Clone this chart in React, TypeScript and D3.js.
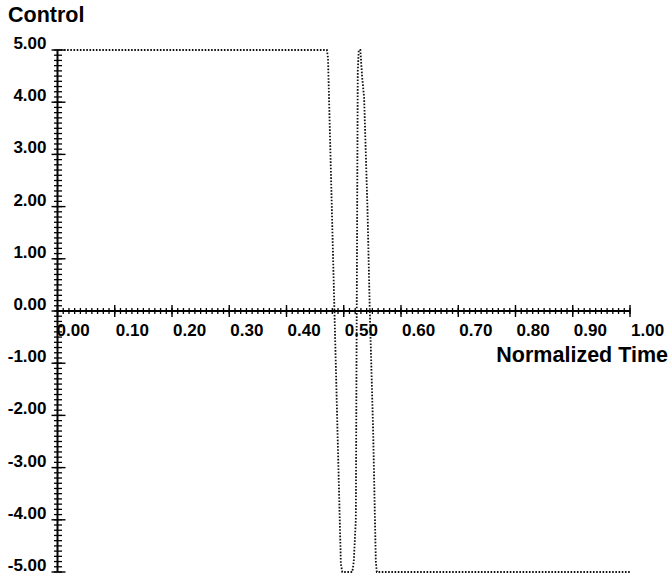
import React, { useEffect, useRef } from 'react';
import * as d3 from 'd3';

// normalized time / control value
const timeValues = [
  0, 0.4705, 0.4725, 0.495, 0.4975, 0.515, 0.5175, 0.5211, 0.5245, 0.5262,
  0.529, 0.532, 0.5356, 0.5415, 0.5455, 0.5513, 0.556, 0.5578, 1.0,
];
const controlValues = [
  5, 5, 4.85, -4.85, -5, -5, -4.8, -4.0, 4.6, 5,
  5, 4.5, 4.08, 1.93, 0, -2.28, -4.8, -5, -5,
];
const xMajorTicks = [0, 0.1, 0.2, 0.3, 0.4, 0.5, 0.6, 0.7, 0.8, 0.9, 1.0];
const yMajorTicks = [5, 4, 3, 2, 1, 0, -1, -2, -3, -4, -5];

const width = 670;
const height = 578;
const font = '"Liberation Sans", Arial, Helvetica, sans-serif';

export default function App() {
  const ref = useRef<SVGSVGElement>(null);

  useEffect(() => {
    const svg = d3.select(ref.current);
    svg.selectAll('*').remove();

    const x = d3.scaleLinear().domain([0, 1]).range([57.5, 630]);
    const y = d3.scaleLinear().domain([-5, 5]).range([572, 50]);
    const x0 = x(0);
    const y0 = y(0);

    const g = svg.append('g');

    // axis lines
    g.append('line')
      .attr('x1', x0).attr('x2', x0)
      .attr('y1', y(5)).attr('y2', y(-5))
      .attr('stroke', '#000').attr('stroke-width', 2);
    g.append('line')
      .attr('x1', x0).attr('x2', x(1))
      .attr('y1', y0).attr('y2', y0)
      .attr('stroke', '#000').attr('stroke-width', 2);

    // minor ticks
    g.selectAll('.xminor')
      .data(x.ticks(100))
      .enter()
      .append('line')
      .attr('x1', (d) => x(d)).attr('x2', (d) => x(d))
      .attr('y1', y0 - 3).attr('y2', y0 + 3)
      .attr('stroke', '#000').attr('stroke-width', 1.3);
    g.selectAll('.yminor')
      .data(y.ticks(100))
      .enter()
      .append('line')
      .attr('x1', x0 - 3.5).attr('x2', x0 + 4.5)
      .attr('y1', (d) => y(d)).attr('y2', (d) => y(d))
      .attr('stroke', '#000').attr('stroke-width', 1.3);

    // major ticks
    g.selectAll('.xmajor')
      .data(xMajorTicks)
      .enter()
      .append('line')
      .attr('x1', (d) => x(d)).attr('x2', (d) => x(d))
      .attr('y1', y0 - 6).attr('y2', y0 + 6)
      .attr('stroke', '#000').attr('stroke-width', 1.4);
    g.selectAll('.ymajor')
      .data(yMajorTicks)
      .enter()
      .append('line')
      .attr('x1', x0 - 6).attr('x2', x0 + 8)
      .attr('y1', (d) => y(d)).attr('y2', (d) => y(d))
      .attr('stroke', '#000').attr('stroke-width', 1.4);

    const fmt = (d: number) => d.toFixed(2);

    g.selectAll('.xlabel')
      .data(xMajorTicks)
      .enter()
      .append('text')
      .attr('x', (d) => x(d) + (d === 0 ? -1 : 1))
      .attr('y', y0 + 25)
      .text((d) => fmt(d))
      .style('font-family', font)
      .style('font-weight', 700)
      .style('font-size', '17px')
      .style('fill', '#000');

    g.selectAll('.ylabel')
      .data(yMajorTicks)
      .enter()
      .append('text')
      .attr('x', x0 - 11)
      .attr('y', (d) => y(d) - 1)
      .attr('text-anchor', 'end')
      .text((d) => fmt(d))
      .style('font-family', font)
      .style('font-weight', 700)
      .style('font-size', '17px')
      .style('fill', '#000');

    // titles
    svg.append('text')
      .attr('x', 8).attr('y', 22)
      .text('Control')
      .style('font-family', font)
      .style('font-weight', 700)
      .style('font-size', '21.5px');
    svg.append('text')
      .attr('x', 668).attr('y', 362)
      .attr('text-anchor', 'end')
      .text('Normalized Time')
      .style('font-family', font)
      .style('font-weight', 700)
      .style('font-size', '21.5px');

    // control curve, dotted
    const pts: [number, number][] = timeValues.map((t, i) => [t, controlValues[i]]);
    const line = d3.line<[number, number]>()
      .x((d) => x(d[0]))
      .y((d) => y(d[1]));
    svg.append('path')
      .datum(pts)
      .attr('d', line)
      .attr('fill', 'none')
      .attr('stroke', '#111')
      .attr('stroke-width', 1.8)
      .attr('stroke-dasharray', '1.6 1.6');
  }, []);

  return (
    <svg
      ref={ref}
      width={width}
      height={height}
      style={{ position: 'absolute', left: 0, top: 0, background: '#fff' }}
    />
  );
}
